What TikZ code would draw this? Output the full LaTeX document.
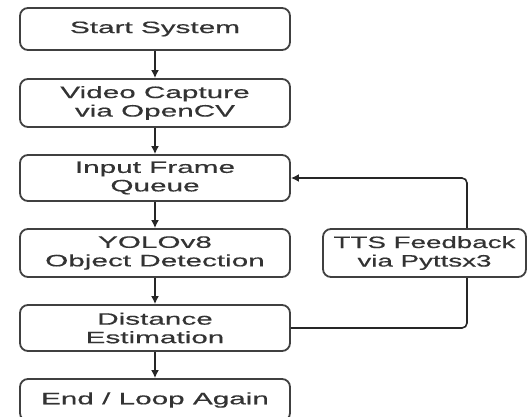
\documentclass[tikz,border=0pt]{standalone}
\usepackage{fontspec}
\newfontfamily\boxfont[FakeStretch=1.8, FakeBold=0.5]{Liberation Sans}
\newfontfamily\sidefont[FakeStretch=1.68, FakeBold=0.5]{Liberation Sans}
\usetikzlibrary{arrows.meta}

\begin{document}
\begin{tikzpicture}[x=1pt, y=-1pt,
    stepbox/.style={draw=black!75, line width=1.8pt, rounded corners=8pt, fill=white,
      minimum width=270pt, inner sep=0pt, align=center, text=black!80,
      font=\boxfont\fontsize{16.5}{18.5}\selectfont},
    flow/.style={draw=black!85, line width=1.6pt, -{Latex[length=8pt,width=8pt]}}]

  \clip (0,0) rectangle (532,416);

  % main chain
  \node[stepbox, minimum height=42pt] (start) at (155,29) {Start System};
  \node[stepbox, minimum height=48pt] (capture) at (155,103) {Video Capture\\via OpenCV};
  \node[stepbox, minimum height=46pt] (queue) at (155,178) {Input Frame\\Queue};
  \node[stepbox, minimum height=48pt] (yolo) at (155,253) {YOLOv8\\Object Detection};
  \node[stepbox, minimum height=46pt] (dist) at (155,328) {Distance\\Estimation};
  \node[stepbox, minimum height=42pt] (stop) at (155,400) {End / Loop Again};

  \draw[flow] (start) -- (capture);
  \draw[flow] (capture) -- (queue);
  \draw[flow] (queue) -- (yolo);
  \draw[flow] (yolo) -- (dist);
  \draw[flow] (dist) -- (stop);

  % feedback loop
  \coordinate (back) at (467,253);
  \draw[flow, rounded corners=5pt] (dist.east) -| (back) |- (queue.east);

  \node[stepbox, minimum width=203pt, minimum height=48pt,
    font=\sidefont\fontsize{16.5}{18.5}\selectfont] (tts) at (424.5,253) {TTS Feedback\\via Pyttsx3};
\end{tikzpicture}
\end{document}
